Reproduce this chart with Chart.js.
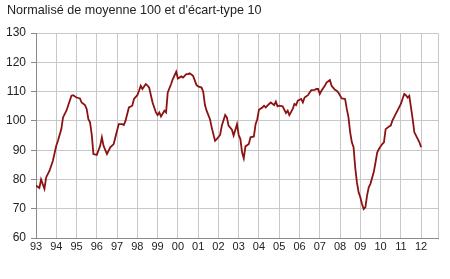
<!DOCTYPE html>
<html>
<head>
<meta charset="utf-8">
<script src="https://cdn.jsdelivr.net/npm/chart.js@4"></script>
<style>
    html, body { margin: 0; padding: 0; background: #fff; }
    #wrap { width: 450px; height: 279px; }
</style>
</head>
<body>
<div id="wrap"><canvas id="indicatorChart"></canvas></div>
<script>
// mois écoulés depuis janvier 1993 (0 = janv. 93)
const monthOffsets = [
    0, 2, 3, 5, 6, 8, 10, 12, 13, 15, 16, 18, 19, 21, 22, 24, 26, 27, 29, 30,
    31, 32, 33, 34, 36, 38, 39, 40, 42, 44, 46, 47, 49, 51, 52, 53, 55, 57, 58, 60,
    61, 62, 63, 65, 66, 67, 69, 71, 72, 73, 74, 76, 77, 78, 80, 81, 83, 84, 86, 87,
    89, 90, 91, 93, 95, 96, 98, 99, 100, 101, 103, 104, 106, 107, 109, 110, 112, 113, 114, 116,
    117, 119, 120, 121, 122, 123, 124, 126, 127, 129, 130, 131, 132, 134, 135, 136, 138, 139, 141, 142,
    143, 144, 146, 148, 149, 150, 152, 153, 154, 155, 157, 158, 159, 161, 162, 163, 165, 166, 167, 168,
    169, 171, 172, 174, 175, 177, 178, 179, 181, 183, 184, 185, 186, 187, 188, 189, 190, 191, 192, 193,
    194, 195, 196, 197, 198, 200, 201, 202, 203, 205, 206, 207, 209, 210, 211, 213, 214, 216, 217, 218,
    219, 220, 221, 222, 223, 224, 225, 227, 228
];

const indicatorValues = [
    77.9, 77.1, 80.0, 76.8, 80.7, 83.0, 86.4, 91.5, 93.2, 97.2, 101.2, 103.5, 105.2, 108.6, 108.8, 108.0, 107.7, 106.3, 105.4, 104.1,
    100.6, 99.5, 95.3, 88.7, 88.4, 91.5, 94.4, 91.5, 88.7, 91.0, 92.1, 94.4, 98.9, 98.9, 98.6, 100.1, 104.6, 105.2, 107.5, 108.8,
    110.3, 112.0, 110.9, 112.6, 112.1, 111.4, 106.3, 102.9, 102.0, 102.9, 101.5, 103.5, 102.9, 109.7, 112.6, 114.3, 116.8, 114.5, 115.2, 114.8,
    116.0, 116.0, 116.3, 115.4, 112.3, 111.8, 111.4, 110.0, 105.5, 103.5, 100.6, 97.8, 93.2, 93.8, 95.2, 98.4, 102.0, 101.2, 98.4, 97.0,
    95.0, 98.9, 95.2, 93.8, 89.3, 87.2, 91.3, 92.1, 94.4, 94.7, 98.9, 100.6, 103.8, 104.6, 105.2, 104.6, 105.8, 106.3, 105.4, 106.6,
    105.0, 105.2, 105.0, 102.7, 103.5, 102.0, 104.1, 105.8, 105.4, 106.9, 107.5, 106.3, 108.0, 108.8, 109.7, 110.5, 110.6, 110.9, 110.9, 109.2,
    110.3, 112.0, 113.1, 114.0, 112.0, 110.6, 110.3, 109.7, 107.7, 107.5, 104.1, 101.2, 96.1, 92.7, 91.0, 84.0, 79.0, 75.6, 73.9, 71.6,
    69.9, 70.5, 74.5, 77.3, 78.5, 82.6, 85.8, 89.2, 90.4, 92.1, 92.7, 97.2, 98.1, 98.4, 100.1, 102.4, 103.5, 105.8, 107.5, 109.2,
    108.8, 108.0, 108.6, 104.6, 100.6, 96.1, 95.0, 92.7, 91.0
];

const yearLabels = ['93', '94', '95', '96', '97', '98', '99', '00', '01', '02',
                    '03', '04', '05', '06', '07', '08', '09', '10', '11', '12'];

const yTicks = [60, 70, 80, 90, 100, 110, 120, 130];

const xEnd = 238; // bord droit du cadre

const points = monthOffsets.map((m, i) => ({ x: m, y: indicatorValues[i] }));

const ctx = document.getElementById('indicatorChart').getContext('2d');
new Chart(ctx, {
    type: 'line',
    data: {
        datasets: [{
            label: 'Indicateur',
            data: points,
            borderColor: '#8c1212',
            borderWidth: 1.8,
            pointRadius: 0,
            fill: false,
            tension: 0
        }]
    },
    options: {
        responsive: true,
        maintainAspectRatio: false,
        animation: false,
        layout: { padding: { left: 7, right: 12, top: 3, bottom: 0 } },
        plugins: {
            legend: { display: false },
            tooltip: { enabled: false },
            title: {
                display: true,
                text: "Normalisé de moyenne 100 et d'écart-type 10",
                align: 'start',
                color: '#222',
                font: { family: 'Liberation Sans, Arial, sans-serif', size: 12.6, weight: 'normal' },
                padding: { top: 0, bottom: 15 }
            }
        },
        scales: {
            x: {
                type: 'linear',
                min: 0,
                max: xEnd,
                afterBuildTicks: scale => {
                    const t = yearLabels.map((_, i) => ({ value: i * 12 }));
                    t.push({ value: xEnd });
                    scale.ticks = t;
                },
                afterFit: scale => { scale.height = 41; },
                grid: { color: '#c8c8c8', lineWidth: 1, tickLength: 0 },
                border: { color: '#8a8a8a', width: 1 },
                ticks: {
                    autoSkip: false,
                    maxRotation: 0,
                    padding: 2,
                    color: '#222',
                    font: { family: 'Liberation Sans, Arial, sans-serif', size: 11 },
                    callback: function(value) {
                        const i = value / 12;
                        return Number.isInteger(i) && yearLabels[i] ? yearLabels[i] : '';
                    }
                }
            },
            y: {
                min: 60,
                max: 130,
                afterBuildTicks: scale => {
                    scale.ticks = yTicks.map(v => ({ value: v }));
                },
                afterFit: scale => { scale.width = 29; },
                grid: { color: '#c8c8c8', lineWidth: 1, tickLength: 5, tickColor: '#8a8a8a' },
                border: { color: '#8a8a8a', width: 1 },
                ticks: {
                    padding: 5,
                    color: '#222',
                    font: { family: 'Liberation Sans, Arial, sans-serif', size: 12 }
                }
            }
        }
    }
});
</script>
</body>
</html>
